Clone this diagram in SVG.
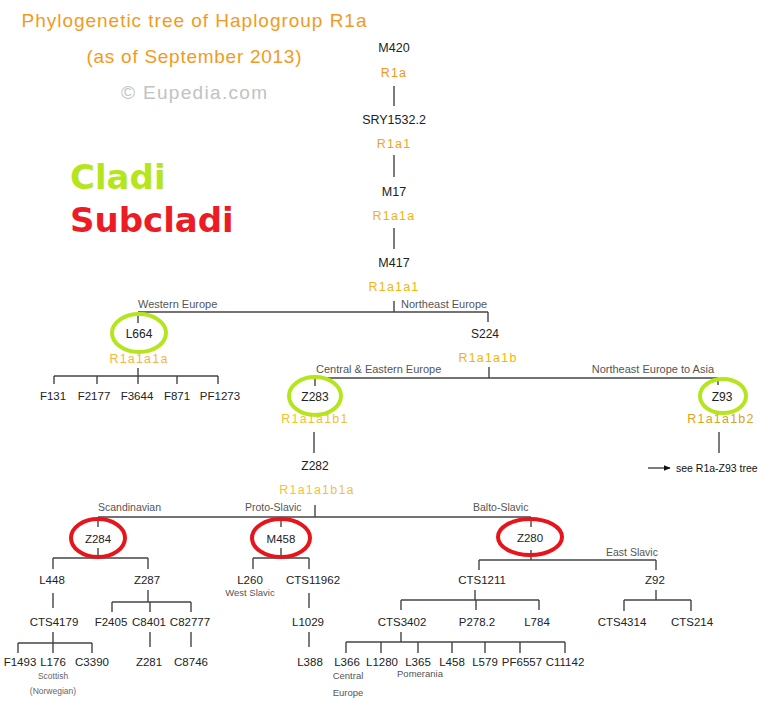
<svg xmlns="http://www.w3.org/2000/svg" width="780" height="716" viewBox="0 0 780 716">
<defs>
<style>
text{font-family:"Liberation Sans","Noto Sans",Arial,sans-serif}
.t{font-size:19px;fill:#f39a1e;text-anchor:middle}
.cp{font-size:19px;fill:#c2c2c2;text-anchor:middle}
.big{font-family:"DejaVu Sans","Noto Sans",sans-serif;font-weight:bold;font-size:34px}
.n{font-size:12.5px;fill:#222;text-anchor:middle}
.m{font-size:12px;fill:#222;text-anchor:middle}
.b{font-size:11.5px;fill:#222;text-anchor:middle}
.h{font-size:12.5px;text-anchor:middle;letter-spacing:1.2px}
.r{font-size:11px;fill:#555}
.rs{font-size:10.5px;fill:#555}
.s{font-size:8.5px;fill:#666;text-anchor:middle}
.s2{font-size:9.5px;fill:#555;text-anchor:middle}
.c line,.c path{stroke:#444;stroke-width:1.4;fill:none}
.g{fill:none;stroke:#b5e61d;stroke-width:4}
.rd{fill:none;stroke:#e8141c;stroke-width:4}
</style>
<marker id="ah" viewBox="0 0 10 10" refX="9" refY="5" markerWidth="7" markerHeight="7" orient="auto" markerUnits="userSpaceOnUse"><path d="M0,1 L10,5 L0,9 z" fill="#111"/></marker>
</defs>
<rect width="780" height="716" fill="#fff"/>
<g id="title">
<text class="t" x="194" y="27" textLength="345" lengthAdjust="spacing">Phylogenetic tree of Haplogroup R1a</text>
<text class="t" x="194" y="63" textLength="215" lengthAdjust="spacing">(as of September 2013)</text>
<text class="cp" x="194" y="99" textLength="146" lengthAdjust="spacing">© Eupedia.com</text>
</g>
<g id="legend">
<text class="big" x="70" y="189" fill="#b5e61d">Cladi</text>
<text class="big" x="70" y="232" fill="#ed1c24">Subcladi</text>
</g>
<g id="connectors" class="c">
<line x1="394" y1="86" x2="394" y2="106"/>
<line x1="394" y1="155" x2="394" y2="177"/>
<line x1="394" y1="228" x2="394" y2="249"/>
<line x1="394" y1="301" x2="394" y2="312"/>
<line x1="138" y1="312" x2="488" y2="312"/>
<line x1="138" y1="312" x2="138" y2="323"/>
<line x1="488" y1="312" x2="488" y2="322"/>
<line x1="138" y1="368" x2="138" y2="376"/>
<line x1="54" y1="376" x2="218" y2="376"/>
<line x1="54" y1="376" x2="54" y2="384"/>
<line x1="97" y1="376" x2="97" y2="384"/>
<line x1="138" y1="376" x2="138" y2="384"/>
<line x1="177" y1="376" x2="177" y2="384"/>
<line x1="218" y1="376" x2="218" y2="384"/>
<line x1="489" y1="367" x2="489" y2="378"/>
<line x1="315" y1="378" x2="718" y2="378"/>
<line x1="315" y1="378" x2="315" y2="386"/>
<line x1="718" y1="378" x2="718" y2="385"/>
<line x1="314" y1="432" x2="314" y2="453"/>
<line x1="719" y1="432" x2="719" y2="453"/>
<line x1="648" y1="468" x2="670" y2="468" marker-end="url(#ah)"/>
<line x1="315" y1="505" x2="315" y2="517"/>
<line x1="98" y1="517" x2="531" y2="517"/>
<line x1="98" y1="517" x2="98" y2="527"/>
<line x1="281" y1="517" x2="281" y2="527"/>
<line x1="531" y1="517" x2="531" y2="527"/>
<line x1="98" y1="548" x2="98" y2="558"/>
<line x1="53" y1="558" x2="148" y2="558"/>
<line x1="53" y1="558" x2="53" y2="569"/>
<line x1="148" y1="558" x2="148" y2="569"/>
<line x1="53" y1="593" x2="53" y2="608"/>
<line x1="53" y1="632" x2="53" y2="643"/>
<line x1="18" y1="643" x2="92" y2="643"/>
<line x1="18" y1="643" x2="18" y2="653"/>
<line x1="53" y1="643" x2="53" y2="653"/>
<line x1="92" y1="643" x2="92" y2="653"/>
<line x1="148" y1="590" x2="148" y2="602"/>
<line x1="112" y1="602" x2="191" y2="602"/>
<line x1="112" y1="602" x2="112" y2="612"/>
<line x1="150" y1="602" x2="150" y2="612"/>
<line x1="191" y1="602" x2="191" y2="612"/>
<line x1="150" y1="632" x2="150" y2="647"/>
<line x1="191" y1="632" x2="191" y2="647"/>
<line x1="281" y1="548" x2="281" y2="558"/>
<line x1="253" y1="558" x2="309" y2="558"/>
<line x1="253" y1="558" x2="253" y2="569"/>
<line x1="309" y1="558" x2="309" y2="569"/>
<line x1="309" y1="593" x2="309" y2="608"/>
<line x1="309" y1="632" x2="309" y2="647"/>
<line x1="531" y1="550" x2="531" y2="560"/>
<line x1="479" y1="560" x2="656" y2="560"/>
<line x1="479" y1="560" x2="479" y2="570"/>
<line x1="656" y1="560" x2="656" y2="570"/>
<line x1="475" y1="590" x2="475" y2="600"/>
<line x1="401" y1="600" x2="539" y2="600"/>
<line x1="401" y1="600" x2="401" y2="610"/>
<line x1="476" y1="600" x2="476" y2="610"/>
<line x1="539" y1="600" x2="539" y2="610"/>
<line x1="656" y1="590" x2="656" y2="600"/>
<line x1="624" y1="600" x2="691" y2="600"/>
<line x1="624" y1="600" x2="624" y2="611"/>
<line x1="691" y1="600" x2="691" y2="611"/>
<line x1="401" y1="632" x2="401" y2="642"/>
<line x1="346" y1="642" x2="565" y2="642"/>
<line x1="346" y1="642" x2="346" y2="653"/>
<line x1="381" y1="642" x2="381" y2="653"/>
<line x1="418" y1="642" x2="418" y2="653"/>
<line x1="452" y1="642" x2="452" y2="653"/>
<line x1="485" y1="642" x2="485" y2="653"/>
<line x1="520" y1="642" x2="520" y2="653"/>
<line x1="565" y1="642" x2="565" y2="653"/>
</g>
<g id="branch-labels">
<text class="r" x="138" y="308">Western Europe</text>
<text class="r" x="401" y="308">Northeast Europe</text>
<text class="r" x="316" y="373">Central &amp; Eastern Europe</text>
<text class="r" x="714" y="373" text-anchor="end">Northeast Europe to Asia</text>
<text class="rs" x="98" y="511">Scandinavian</text>
<text class="rs" x="245" y="511">Proto-Slavic</text>
<text class="rs" x="473" y="511">Balto-Slavic</text>
<text class="rs" x="606" y="556">East Slavic</text>
</g>
<g id="node-M420"><text class="n" x="394" y="52">M420</text><text class="h" x="394" y="77" fill="#f7941d">R1a</text></g>
<g id="node-SRY1532.2"><text class="n" x="394" y="124">SRY1532.2</text><text class="h" x="394" y="148" fill="#f3a31b">R1a1</text></g>
<g id="node-M17"><text class="n" x="394" y="196">M17</text><text class="h" x="394" y="220" fill="#f4b20e">R1a1a</text></g>
<g id="node-M417"><text class="n" x="394" y="267">M417</text><text class="h" x="394" y="291" fill="#f4b40e">R1a1a1</text></g>
<g id="node-L664"><ellipse class="g" cx="139" cy="333" rx="27" ry="19"/><text class="m" x="139" y="338">L664</text><text class="h" x="139" y="363" fill="#f9b43c">R1a1a1a</text></g>
<g id="node-F131"><text class="b" x="53" y="400">F131</text></g>
<g id="node-F2177"><text class="b" x="94" y="400">F2177</text></g>
<g id="node-F3644"><text class="b" x="137" y="400">F3644</text></g>
<g id="node-F871"><text class="b" x="177" y="400">F871</text></g>
<g id="node-PF1273"><text class="b" x="220" y="400">PF1273</text></g>
<g id="node-S224"><text class="m" x="485" y="338">S224</text><text class="h" x="488" y="362" fill="#f2b600">R1a1a1b</text></g>
<g id="node-Z283"><ellipse class="g" cx="315" cy="396" rx="26" ry="19"/><text class="m" x="315" y="401">Z283</text><text class="h" x="315" y="423" fill="#f4c030">R1a1a1b1</text></g>
<g id="node-Z93"><ellipse class="g" cx="723" cy="396" rx="23" ry="17"/><text class="m" x="722" y="401">Z93</text><text class="h" x="721" y="423" fill="#d9a21f">R1a1a1b2</text><text x="676" y="472" font-size="10.5" fill="#111">see R1a-Z93 tree</text></g>
<g id="node-Z282"><text class="m" x="315" y="470">Z282</text><text class="h" x="317" y="494" fill="#f4c040">R1a1a1b1a</text></g>
<g id="node-Z284"><ellipse class="rd" cx="98" cy="538" rx="27" ry="19"/><text class="b" x="98" y="543">Z284</text></g>
<g id="node-M458"><ellipse class="rd" cx="281" cy="538" rx="29" ry="19"/><text class="b" x="281" y="543">M458</text></g>
<g id="node-Z280"><ellipse class="rd" cx="530" cy="537" rx="32" ry="18"/><text class="b" x="530" y="542">Z280</text></g>
<g id="node-L448"><text class="b" x="52" y="584">L448</text></g>
<g id="node-Z287"><text class="b" x="147" y="584">Z287</text></g>
<g id="node-CTS4179"><text class="b" x="54" y="626">CTS4179</text></g>
<g id="node-F1493"><text class="b" x="20" y="666">F1493</text></g>
<g id="node-L176"><text class="b" x="53" y="666">L176</text><text class="s" x="53" y="679">Scottish</text><text class="s" x="53" y="694">(Norwegian)</text></g>
<g id="node-C3390"><text class="b" x="92" y="666">C3390</text></g>
<g id="node-F2405"><text class="b" x="111" y="626">F2405</text></g>
<g id="node-C8401"><text class="b" x="149" y="626">C8401</text></g>
<g id="node-C82777"><text class="b" x="190" y="626">C82777</text></g>
<g id="node-Z281"><text class="b" x="149" y="666">Z281</text></g>
<g id="node-C8746"><text class="b" x="191" y="666">C8746</text></g>
<g id="node-L260"><text class="b" x="250" y="584">L260</text><text class="s2" x="250" y="596">West Slavic</text></g>
<g id="node-CTS11962"><text class="b" x="313" y="584">CTS11962</text></g>
<g id="node-L1029"><text class="b" x="308" y="626">L1029</text></g>
<g id="node-L388"><text class="b" x="310" y="666">L388</text></g>
<g id="node-CTS1211"><text class="b" x="482" y="584">CTS1211</text></g>
<g id="node-Z92"><text class="b" x="655" y="584">Z92</text></g>
<g id="node-CTS3402"><text class="b" x="402" y="626">CTS3402</text></g>
<g id="node-P278.2"><text class="b" x="477" y="626">P278.2</text></g>
<g id="node-L784"><text class="b" x="537" y="626">L784</text></g>
<g id="node-CTS4314"><text class="b" x="622" y="626">CTS4314</text></g>
<g id="node-CTS214"><text class="b" x="692" y="626">CTS214</text></g>
<g id="node-L366"><text class="b" x="347" y="666">L366</text><text class="s2" x="348" y="679">Central</text><text class="s2" x="348" y="696">Europe</text></g>
<g id="node-L1280"><text class="b" x="382" y="666">L1280</text></g>
<g id="node-L365"><text class="b" x="418" y="666">L365</text><text class="s2" x="420" y="677">Pomerania</text></g>
<g id="node-L458"><text class="b" x="452" y="666">L458</text></g>
<g id="node-L579"><text class="b" x="485" y="666">L579</text></g>
<g id="node-PF6557"><text class="b" x="522" y="666">PF6557</text></g>
<g id="node-C11142"><text class="b" x="565" y="666">C11142</text></g>
</svg>
